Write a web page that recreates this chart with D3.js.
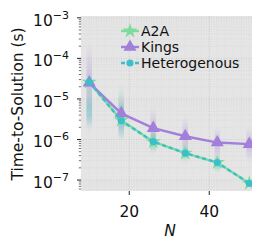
<!DOCTYPE html>
<html><head><meta charset="utf-8">
<script src="https://cdn.jsdelivr.net/npm/d3@7"></script>
<style>body{margin:0;background:#fff}svg{display:block}text{font-family:"DejaVu Sans",sans-serif;fill:#111}</style>
</head><body><svg id="c" width="269" height="251"></svg>
<script>
const Ns = [10, 18, 26, 34, 42, 50];
const seriesNames = ["A2A", "Kings", "Heterogenous"];
const a2aVals = [2.6e-5, 3.0e-6, 8.8e-7, 4.6e-7, 2.7e-7, 8.3e-8];
const kingsVals = [2.5e-5, 4.4e-6, 1.9e-6, 1.2e-6, 8.4e-7, 7.7e-7];
const heteroVals = [2.6e-5, 2.9e-6, 8.8e-7, 4.6e-7, 2.7e-7, 8.3e-8];
// spread of individual runs (low, high)
const a2aLo = [1.6e-6, 8e-7, 4e-7, 2.5e-7, 1.5e-7, 6.5e-8];
const a2aHi = [6e-5, 2.5e-5, 2.5e-6, 9e-7, 4.5e-7, 1e-7];
const kingsLo = [1.5e-6, 1e-6, 5e-7, 3.5e-7, 3e-7, 2.8e-7];
const kingsHi = [2.5e-4, 1.5e-5, 6e-6, 3.5e-6, 2e-6, 2e-6];
const heteroLo = [2e-6, 1e-6, 5e-7, 3e-7, 1.6e-7, 7e-8];
const heteroHi = [1.2e-5, 1e-5, 1.6e-6, 7e-7, 4e-7, 9e-8];
const yTickExps = [-3, -4, -5, -6, -7];
const xTicks = [20, 40];

const colors = {A2A: "#7ddc9c", Kings: "#a27fdb", Heterogenous: "#3dbfcb"};
const svg = d3.select("#c");
const L = 81, R = 252, T = 16, B = 191;
const x = d3.scaleLinear().domain([7.93, 50.68]).range([L, R]);
const y = d3.scaleLog().domain([Math.pow(10, -7.27), Math.pow(10, -2.955)]).range([B, T]);

svg.append("rect").attr("x", L).attr("y", T).attr("width", R - L).attr("height", B - T).attr("fill", "#e5e5e5");
const defs = svg.append("defs");
defs.append("clipPath").attr("id", "clip").append("rect").attr("x", L).attr("y", T).attr("width", R - L).attr("height", B - T);

// grid: minor
const g = svg.append("g");
const minorY = [];
for (let e = -8; e <= -3; e++) for (let m = 2; m <= 9; m++) { const v = m * Math.pow(10, e); if (v > y.domain()[0] && v < y.domain()[1]) minorY.push(v); }
g.selectAll(".my").data(minorY).enter().append("line").attr("x1", L).attr("x2", R).attr("y1", d => y(d)).attr("y2", d => y(d))
  .attr("stroke", "#d2d2d2").attr("stroke-width", 0.6).attr("stroke-dasharray", "1,1.5");
const minorX = d3.range(8, 51, 2);
g.selectAll(".mx").data(minorX).enter().append("line").attr("y1", T).attr("y2", B).attr("x1", d => x(d)).attr("x2", d => x(d))
  .attr("stroke", "#d8d8d8").attr("stroke-width", 0.6).attr("stroke-dasharray", "1,1.5");
g.selectAll(".gy").data(yTickExps).enter().append("line").attr("x1", L).attr("x2", R).attr("y1", d => y(Math.pow(10, d))).attr("y2", d => y(Math.pow(10, d)))
  .attr("stroke", "#c8c8c8").attr("stroke-width", 0.8).attr("stroke-dasharray", "1,1.5");
g.selectAll(".gx").data(xTicks).enter().append("line").attr("y1", T).attr("y2", B).attr("x1", d => x(d)).attr("x2", d => x(d))
  .attr("stroke", "#c8c8c8").attr("stroke-width", 0.8).attr("stroke-dasharray", "1,1.5");

// gradients
Object.entries(colors).forEach(([k, c], i) => {
  const gr = defs.append("linearGradient").attr("id", "grad" + i).attr("x1", 0).attr("x2", 0).attr("y1", 0).attr("y2", 1);
  [[0, 0], [0.35, 0.26], [0.65, 0.26], [1, 0]].forEach(([o, a]) => gr.append("stop").attr("offset", o).attr("stop-color", c).attr("stop-opacity", a));
});

const series = [
  {name: "A2A", vals: a2aVals, lo: a2aLo, hi: a2aHi, gi: 0, marker: d3.symbolStar, size: 70, dash: null},
  {name: "Kings", vals: kingsVals, lo: kingsLo, hi: kingsHi, gi: 1, marker: d3.symbolTriangle, size: 75, dash: null},
  {name: "Heterogenous", vals: heteroVals, lo: heteroLo, hi: heteroHi, gi: 2, marker: d3.symbolCircle, size: 40, dash: "4,3"},
];
const plot = svg.append("g").attr("clip-path", "url(#clip)");
series.forEach(s => {
  plot.append("g").selectAll("rect").data(Ns).enter().append("rect")
    .attr("x", d => x(d) - 2.8).attr("width", 5.6)
    .attr("y", (d, i) => y(s.hi[i])).attr("height", (d, i) => y(s.lo[i]) - y(s.hi[i]))
    .attr("fill", "url(#grad" + s.gi + ")");
});
const line = d3.line().x(d => x(d[0])).y(d => y(d[1]));
series.forEach(s => {
  const pts = Ns.map((n, i) => [n, s.vals[i]]);
  plot.append("path").attr("d", line(pts)).attr("fill", "none").attr("stroke", colors[s.name]).attr("stroke-width", 2.4)
    .attr("stroke-dasharray", s.dash);
  plot.append("g").selectAll("path").data(pts).enter().append("path")
    .attr("transform", d => `translate(${x(d[0])},${y(d[1])})`)
    .attr("d", d3.symbol().type(s.marker).size(s.size)).attr("fill", colors[s.name]);
});

// axes ticks
const ax = svg.append("g");
const allMinor = [];
for (let e = -8; e <= -3; e++) for (let m = 2; m <= 9; m++) { const v = m * Math.pow(10, e); if (v >= y.domain()[0] && v <= y.domain()[1]) allMinor.push(v); }
ax.selectAll(".ym").data(allMinor).enter().append("line").attr("x1", L - 2.2).attr("x2", L).attr("y1", d => y(d)).attr("y2", d => y(d)).attr("stroke", "#333").attr("stroke-width", 0.7);
ax.selectAll(".yM").data(yTickExps).enter().append("line").attr("x1", L - 4).attr("x2", L).attr("y1", d => y(Math.pow(10, d))).attr("y2", d => y(Math.pow(10, d))).attr("stroke", "#222").attr("stroke-width", 1);
ax.selectAll(".xM").data(xTicks).enter().append("line").attr("y1", B).attr("y2", B + 4).attr("x1", d => x(d)).attr("x2", d => x(d)).attr("stroke", "#222").attr("stroke-width", 1);

const yl = ax.selectAll(".yl").data(yTickExps).enter().append("text")
  .attr("x", 69).attr("y", d => y(Math.pow(10, d)) + 8).attr("text-anchor", "end").attr("font-size", 15.5);
yl.append("tspan").text("10");
yl.append("tspan").attr("dy", -7).attr("font-size", 11).text(d => "\u2212" + (-d));
ax.selectAll(".xl").data(xTicks).enter().append("text").attr("x", d => x(d)).attr("y", 217).attr("text-anchor", "middle").attr("font-size", 15.5).text(d => d);
svg.append("text").attr("x", 170).attr("y", 236).attr("text-anchor", "middle").attr("font-size", 15.5).attr("font-style", "italic").text("N");
svg.append("text").attr("transform", "translate(23,104) rotate(-90)").attr("text-anchor", "middle").attr("font-size", 15.5).text("Time-to-Solution (s)");

// legend
const lg = svg.append("g");
series.forEach((s, i) => {
  const yy = 31 + i * 16;
  lg.append("line").attr("x1", 121).attr("x2", 139).attr("y1", yy).attr("y2", yy).attr("stroke", colors[s.name]).attr("stroke-width", 2.4).attr("stroke-dasharray", s.dash);
  lg.append("path").attr("transform", `translate(130,${yy})`).attr("d", d3.symbol().type(s.marker).size(s.size)).attr("fill", colors[s.name]);
  lg.append("text").attr("x", 141).attr("y", yy + 5).attr("font-size", 14).text(s.name);
});
</script></body></html>
